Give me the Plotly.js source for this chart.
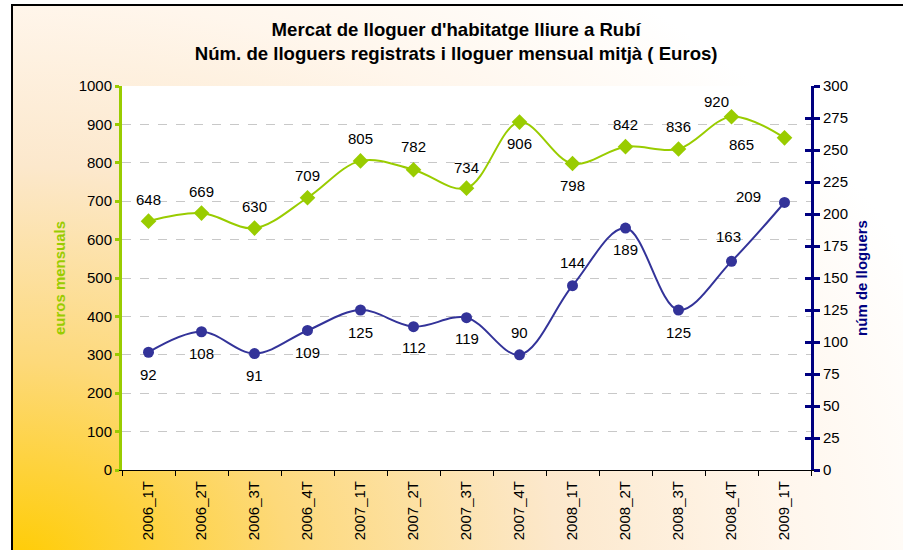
<!DOCTYPE html>
<html>
<head>
<meta charset="utf-8">
<script src="https://cdn.plot.ly/plotly-3.0.1.min.js"></script>
<style>
  html, body { margin:0; padding:0; width:903px; height:550px; overflow:hidden; background:#fff; }
  #frame { position:absolute; left:11px; top:4px; width:900px; height:560px; border:2px solid #000;
    background: radial-gradient(ellipse 110% 130% at 0% 100%, #FFCC00 0%, #FDD97A 28%, #FCE8CC 55%, #FFF6EC 78%, #FFFFFF 100%); }
  #chart { position:absolute; left:0; top:0; width:903px; height:550px; }
</style>
</head>
<body>
<div id="frame"></div>
<div id="chart"></div>
<script>
const categories = ["2006_1T","2006_2T","2006_3T","2006_4T","2007_1T","2007_2T","2007_3T","2007_4T","2008_1T","2008_2T","2008_3T","2008_4T","2009_1T"];
const eurosMensuals = [648,669,630,709,805,782,734,906,798,842,836,920,865];
const numLloguers = [92,108,91,109,125,112,119,90,144,189,125,163,209];

// label offsets in pixels (style only)
const greenDx = [0,0,0,0,0,0,0,0,0,0,0,-15,-43];
const greenDy = [22,22,22,22,22,23,21,-21,-22,22,22,15,-7];
const blueDx = [0,0,0,0,0,0,0,0,0,0,0,-3,-36];
const blueDy = [-22,-22,-22,-22,-22,-21,-21,22,23,-21,-22,25,6];

const GREEN = '#99CC00', NAVY = '#000080', BLUE = '#333399';
const FONT = '"Liberation Sans", Arial, sans-serif';

const traces = [
  { x: categories, y: eurosMensuals, type:'scatter', mode:'lines+markers', yaxis:'y',
    line:{color:GREEN, width:2, shape:'spline', smoothing:1},
    marker:{symbol:'diamond', size:12, color:GREEN}, hoverinfo:'x+y', showlegend:false },
  { x: categories, y: numLloguers, type:'scatter', mode:'lines+markers', yaxis:'y2',
    line:{color:BLUE, width:2, shape:'spline', smoothing:1},
    marker:{symbol:'circle', size:11, color:BLUE}, hoverinfo:'x+y', showlegend:false },
  { x: [], y: [], type:'scatter', mode:'lines', yaxis:'y3', showlegend:false, hoverinfo:'skip' }
];

const annotations = [];
categories.forEach((c,i) => {
  annotations.push({x:c, y:eurosMensuals[i], xref:'x', yref:'y', text:String(eurosMensuals[i]),
    showarrow:false, xshift:greenDx[i], yshift:greenDy[i], font:{family:FONT, size:15, color:'#000'}});
  annotations.push({x:c, y:numLloguers[i], xref:'x', yref:'y2', text:String(numLloguers[i]),
    showarrow:false, xshift:blueDx[i], yshift:blueDy[i], font:{family:FONT, size:15, color:'#000'}});
});

const layout = {
  width:903, height:550,
  margin:{l:122, r:92, t:86, b:80, pad:0},
  paper_bgcolor:'rgba(0,0,0,0)', plot_bgcolor:'#FFFFFF',
  font:{family:FONT, size:15, color:'#000'},
  title:{text:"<b>Mercat de lloguer d'habitatge lliure a Rubí<br>Núm. de lloguers registrats i lloguer mensual mitjà ( Euros)</b>",
    x:0.485, xref:'paper', y:0.934, yref:'container', yanchor:'top',
    font:{family:FONT, size:18.6, color:'#000'}},
  xaxis:{type:'category', range:[-0.5,12.5], showline:true, linecolor:'#000', linewidth:1,
    ticks:'outside', ticklen:5, tickcolor:'#000', tickwidth:1, tickson:'boundaries',
    ticklabelstandoff:4,
    tickangle:-90, showgrid:false, zeroline:false, tickfont:{family:FONT, size:15, color:'#000'}},
  yaxis:{range:[0,1000], dtick:100, showline:true, linecolor:GREEN, linewidth:3,
    ticks:'outside', ticklen:4, tickwidth:3, tickcolor:GREEN,
    showgrid:true, gridcolor:'#C8C8C8', griddash:'dash', gridwidth:1, zeroline:false,
    tickfont:{family:FONT, size:15, color:'#000'},
    title:{text:'<b>euros mensuals</b>', standoff:10, font:{family:FONT, size:15, color:GREEN}}},
  yaxis2:{range:[0,300], dtick:25, overlaying:'y', side:'right', anchor:'x', showline:true,
    linecolor:NAVY, linewidth:3, ticks:'outside', ticklen:6, tickwidth:3, tickcolor:NAVY,
    showgrid:false, zeroline:false, tickfont:{family:FONT, size:15, color:'#000'},
    title:{text:'<b>núm de lloguers</b>', standoff:10, font:{family:FONT, size:15, color:NAVY}}},
  yaxis3:{range:[0,300], dtick:25, overlaying:'y', side:'right', anchor:'x', showline:false,
    ticks:'inside', ticklen:6, tickwidth:3, tickcolor:NAVY, showticklabels:false,
    showgrid:false, zeroline:false},
  annotations: annotations,
  showlegend:false
};

Plotly.newPlot('chart', traces, layout, {displayModeBar:false, staticPlot:true});
</script>
</body>
</html>
